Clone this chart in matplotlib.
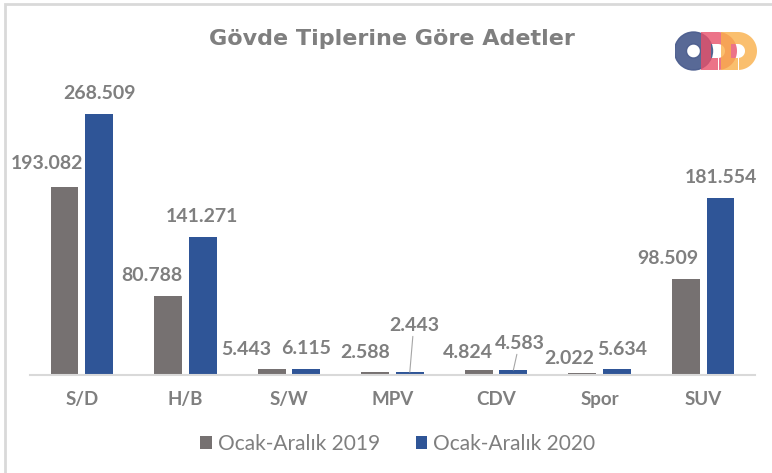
import matplotlib.pyplot as plt
import numpy as np
from matplotlib.patches import Wedge, Rectangle, PathPatch
from matplotlib.path import Path

categories = ["S/D", "H/B", "S/W", "MPV", "CDV", "Spor", "SUV"]
series_names = ["Ocak-Aralık 2019", "Ocak-Aralık 2020"]
values_2019 = [193082, 80788, 5443, 2588, 4824, 2022, 98509]
values_2020 = [268509, 141271, 6115, 2443, 4583, 5634, 181554]
title = "Gövde Tiplerine Göre Adetler"

# label offsets (pixels) from the top of each bar, as Excel placed them
offsets_2019 = [(-18, 24), (-16, 21), (-25, 20), (-10, 19), (-11, 17), (-13, 14), (-18, 20)]
offsets_2020 = [(0, 21), (-1, 21), (0, 20), (4, 47), (6, 27), (5, 20), (0, 21)]
leader_2020 = [False, False, False, True, True, False, False]

GRAY = "#767171"
BLUE = "#2F5597"
TEXT = "#7F7F7F"
FONT = ["Lato", "DejaVu Sans"]

plt.rcParams["font.family"] = FONT

W, H = 772, 473
fig = plt.figure(figsize=(W / 100, H / 100), dpi=100)

base_px = 374.5
ymax = 300000
px_per_unit = 0.00097
ax = fig.add_axes([30 / W, (H - base_px) / H, 725 / W, ymax * px_per_unit / H])

x = np.arange(len(categories))
bw = 0.27
off = 0.167
ax.bar(x - off, values_2019, bw, color=GRAY, label=series_names[0])
ax.bar(x + off, values_2020, bw, color=BLUE, label=series_names[1])

ax.set_xlim(-0.5, len(categories) - 0.5)
ax.set_ylim(0, ymax)

for s in ["top", "right", "left"]:
    ax.spines[s].set_visible(False)
ax.spines["bottom"].set_color("#D9D9D9")
ax.spines["bottom"].set_linewidth(1.5)
ax.set_yticks([])
ax.set_xticks(x)
ax.set_xticklabels(categories, fontsize=13.5, color=TEXT, fontweight="bold")
ax.tick_params(axis="x", length=0, pad=12)


def fmt(v):
    return f"{v:,}".replace(",", ".")


for i, v in enumerate(values_2019):
    ax.annotate(fmt(v), xy=(x[i] - off, v), xytext=offsets_2019[i],
                textcoords="offset pixels", ha="center", va="center",
                fontsize=14, fontweight="bold", color=TEXT)

for i, v in enumerate(values_2020):
    arrow = None
    if leader_2020[i]:
        arrow = dict(arrowstyle="-", color="#A6A6A6", lw=0.8, shrinkA=0, shrinkB=0)
    ax.annotate(fmt(v), xy=(x[i] + off, v), xytext=offsets_2020[i],
                textcoords="offset pixels", ha="center", va="center",
                fontsize=14, fontweight="bold", color=TEXT, arrowprops=arrow)

fig.text(392 / W, 1 - 39 / H, title, ha="center", va="center",
         fontsize=16, fontweight="bold", color=TEXT, family="DejaVu Sans")

fig.legend(loc="center", bbox_to_anchor=(398 / W, 1 - 444 / H), ncol=2,
           frameon=False, fontsize=15, handlelength=0.55, handleheight=0.55,
           handletextpad=0.3, columnspacing=1.7, labelcolor="#7F7F7F")

# chart frame (only top and left edges are visible in the crop)
fig.add_artist(Rectangle((4.5 / W, -0.05), 1.2, (H - 4.5) / H + 0.05,
                         transform=fig.transFigure, fill=False,
                         edgecolor="#D9D9D9", lw=2))

# ODD logo
lax = fig.add_axes([675 / W, (H - 72) / H, 85 / W, 42 / H])
lax.set_xlim(0, 85)
lax.set_ylim(0, 42)
lax.axis("off")


def d_shape(cx, cy, r_out, r_in, stem_out, stem_in):
    t = np.linspace(-np.pi / 2, np.pi / 2, 40)
    outer = [(cx - stem_out, cy - r_out)]
    outer += list(zip(cx + r_out * np.cos(t), cy + r_out * np.sin(t)))
    outer += [(cx - stem_out, cy + r_out), (cx - stem_out, cy - r_out)]
    inner = [(cx - stem_in, cy + r_in)]
    inner += list(zip(cx + r_in * np.cos(t[::-1]), cy + r_in * np.sin(t[::-1])))
    inner += [(cx - stem_in, cy - r_in), (cx - stem_in, cy + r_in)]
    verts = outer + inner
    codes = ([Path.MOVETO] + [Path.LINETO] * (len(outer) - 2) + [Path.CLOSEPOLY]
             + [Path.MOVETO] + [Path.LINETO] * (len(inner) - 2) + [Path.CLOSEPOLY])
    return Path(verts, codes)


lax.add_patch(Wedge((18.5, 21), 19, 0, 360, width=12, color="#4A5C8D", alpha=0.92))
lax.add_patch(PathPatch(d_shape(43, 21, 19, 7, 17, 7), color="#E8506A", alpha=0.8, lw=0))
lax.add_patch(PathPatch(d_shape(63, 21, 19, 7, 17, 7), color="#F9B04A", alpha=0.8, lw=0))
for cx in (42.8, 62.8):
    lax.add_patch(Rectangle((cx, 1.5), 1.0, 12.5, color="white", lw=0))

fig.savefig("out.png", dpi=100)
